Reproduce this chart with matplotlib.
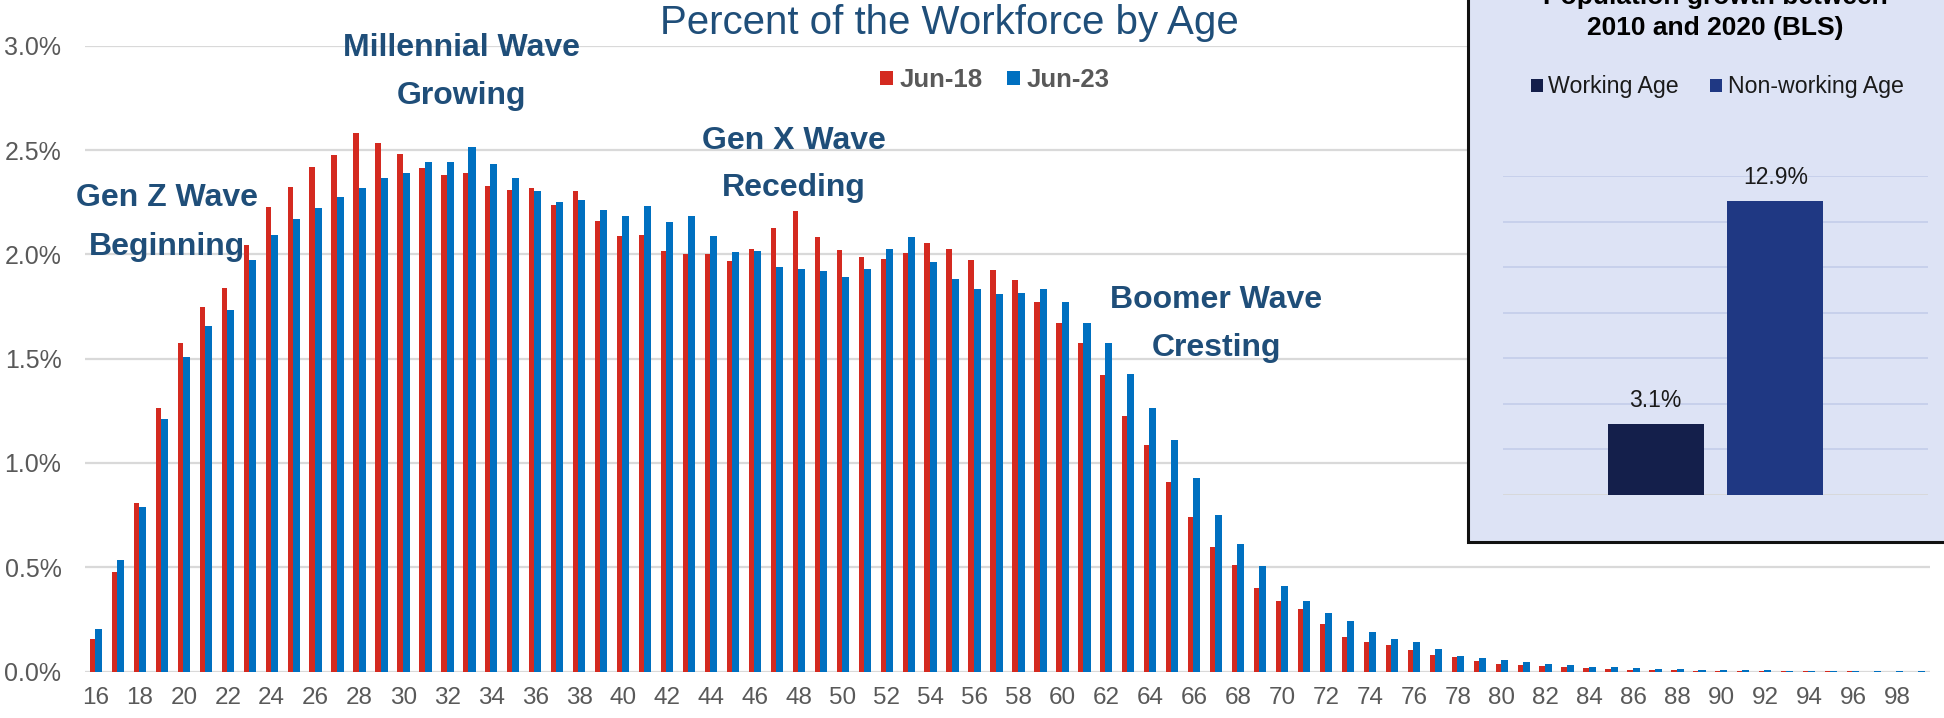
import matplotlib
matplotlib.use("Agg")
import matplotlib.pyplot as plt
from matplotlib.patches import Rectangle
from matplotlib.ticker import FuncFormatter
import numpy as np

plt.rcParams['font.family'] = ['Liberation Sans', 'DejaVu Sans']

# ---------------- data ----------------
ages = list(range(16, 100))
jun18 = [0.154, 0.478, 0.807, 1.261, 1.577, 1.748, 1.840, 2.044, 2.228, 2.325,
         2.419, 2.476, 2.581, 2.533, 2.480, 2.414, 2.379, 2.390, 2.329, 2.307,
         2.318, 2.239, 2.305, 2.160, 2.086, 2.092, 2.015, 2.000, 2.004, 1.969,
         2.024, 2.125, 2.206, 2.083, 2.020, 1.985, 1.976, 2.007, 2.055, 2.026,
         1.974, 1.925, 1.877, 1.770, 1.673, 1.575, 1.421, 1.224, 1.086, 0.910,
         0.743, 0.599, 0.511, 0.401, 0.340, 0.298, 0.230, 0.167, 0.143, 0.125,
         0.105, 0.081, 0.070, 0.048, 0.038, 0.029, 0.025, 0.020, 0.016, 0.011,
         0.008, 0.007, 0.005, 0.004, 0.003, 0.002, 0.002, 0.001, 0.001, 0.001,
         0.001, 0.000, 0.000, 0.000]
jun23 = [0.206, 0.533, 0.789, 1.211, 1.507, 1.656, 1.732, 1.971, 2.094, 2.169,
         2.221, 2.276, 2.320, 2.366, 2.390, 2.443, 2.443, 2.515, 2.434, 2.368,
         2.303, 2.252, 2.263, 2.211, 2.182, 2.230, 2.156, 2.184, 2.086, 2.011,
         2.018, 1.939, 1.930, 1.919, 1.890, 1.930, 2.024, 2.083, 1.963, 1.882,
         1.836, 1.809, 1.816, 1.833, 1.770, 1.673, 1.575, 1.428, 1.261, 1.110,
         0.928, 0.748, 0.610, 0.504, 0.412, 0.336, 0.281, 0.243, 0.189, 0.158,
         0.140, 0.110, 0.075, 0.064, 0.054, 0.046, 0.036, 0.031, 0.023, 0.020,
         0.015, 0.011, 0.010, 0.009, 0.007, 0.006, 0.005, 0.004, 0.003, 0.002,
         0.002, 0.001, 0.001, 0.001]
series_names = ['Jun-18', 'Jun-23']
yticks = [0.0, 0.5, 1.0, 1.5, 2.0, 2.5, 3.0]
xtick_ages = list(range(16, 99, 2))

inset_groups = ['Working Age', 'Non-working Age']
inset_values = [3.1, 12.9]
inset_yticks = [0, 2, 4, 6, 8, 10, 12, 14]

annotations = ['Gen Z Wave\nBeginning', 'Millennial Wave\nGrowing',
               'Gen X Wave\nReceding', 'Boomer Wave\nCresting']

# ---------------- styles ----------------
RED = '#D42A20'
BLUE = '#0070C0'
TITLE_BLUE = '#1F4E79'
GRAY = '#595959'
GRID = '#D9D9D9'

W, H = 1944, 718
fig = plt.figure(figsize=(W / 100, H / 100), dpi=100)


def fx(px):
    return px / W


def fy(py):
    return 1 - py / H


# ---------------- main chart ----------------
ax = fig.add_axes([fx(85), fy(671.5), fx(1930) - fx(85), fy(45.8) - fy(671.5)])
x = np.arange(len(ages))
ax.bar(x - 0.16, jun18, width=0.24, color=RED, label=series_names[0], zorder=2)
ax.bar(x + 0.12, jun23, width=0.32, color=BLUE, label=series_names[1], zorder=2)
ax.set_xlim(-0.5, len(ages) - 0.5)
ax.set_ylim(0, 3.0)
ax.set_yticks(yticks)
ax.yaxis.set_major_formatter(FuncFormatter(lambda v, p: f"{v:.1f}%"))
ax.set_xticks([ages.index(a) for a in xtick_ages])
ax.set_xticklabels([str(a) for a in xtick_ages])
ax.yaxis.grid(True, color=GRID, lw=1.6)
ax.set_axisbelow(True)
for s in ax.spines.values():
    s.set_visible(False)
ax.tick_params(axis='both', length=0, colors=GRAY)
ax.tick_params(axis='y', labelsize=18, pad=17)
ax.tick_params(axis='x', labelsize=17.5, pad=11)

ax.legend(loc='center', bbox_to_anchor=(fx(995), fy(80)), bbox_transform=fig.transFigure,
          ncol=2, frameon=False, prop={'weight': 'bold', 'size': 18.5},
          handlelength=0.5, handleheight=0.5, handletextpad=0.27, columnspacing=0.93,
          labelcolor=GRAY)

fig.text(fx(949.5), fy(34), 'Percent of the Workforce by Age', ha='center', va='baseline',
         fontsize=29, color=TITLE_BLUE)

# annotation positions (category index, baseline of line 1 and line 2 in %)
ann_pos = [(3.23, 2.230, 1.999), (16.62, 2.949, 2.721),
           (31.79, 2.505, 2.279), (51.0, 1.744, 1.513)]
for txt, (xi, y1, y2) in zip(annotations, ann_pos):
    l1, l2 = txt.split('\n')
    ax.text(xi, y1, l1, ha='center', va='baseline', fontsize=23, weight='bold',
            color=TITLE_BLUE, zorder=5)
    ax.text(xi, y2, l2, ha='center', va='baseline', fontsize=23, weight='bold',
            color=TITLE_BLUE, zorder=5)

# ---------------- inset ----------------
box = Rectangle((fx(1468), fy(542)), fx(1990) - fx(1468), 1.2, transform=fig.transFigure,
                facecolor='#DDE3F5', edgecolor='#111111', lw=2.2, zorder=1, clip_on=False)
fig.add_artist(box)

ax2 = fig.add_axes([fx(1503), fy(494.5), fx(1928) - fx(1503), fy(176) - fy(494.5)], zorder=2)
ax2.patch.set_alpha(0)
ax2.set_xlim(-0.5, 0.5)
ax2.set_ylim(0, 14)
ax2.set_yticks(inset_yticks)
ax2.yaxis.grid(True, color='#C5CEEA', lw=1.3)
ax2.set_axisbelow(True)
ax2.axhline(0, color=GRID, lw=2, zorder=1)
for s in ax2.spines.values():
    s.set_visible(False)
ax2.set_xticks([])
ax2.tick_params(axis='y', length=0, labelleft=False)
inset_colors = ['#141F4B', '#1F3883']
offsets = [-0.141, 0.141]
for name, val, col, off in zip(inset_groups, inset_values, inset_colors, offsets):
    b = ax2.bar(off, val, width=0.226, color=col, label=name, zorder=2)
    ax2.bar_label(b, fmt='%.1f%%', padding=8.6, fontsize=16.5, color='#1A1A1A')

ax2.legend(loc='center', bbox_to_anchor=(fx(1717), fy(87)), bbox_transform=fig.transFigure,
           ncol=2, frameon=False, fontsize=16.7, handlelength=0.52, handleheight=0.52,
           handletextpad=0.22, columnspacing=1.38, labelcolor='#1A1A1A')

fig.text(fx(1715), fy(4), 'Population growth between', ha='center', va='baseline',
         fontsize=19, weight='bold', color='black', zorder=4)
fig.text(fx(1715), fy(35), '2010 and 2020 (BLS)', ha='center', va='baseline',
         fontsize=19, weight='bold', color='black', zorder=4)

fig.savefig('out.png', dpi=100, facecolor='white')
